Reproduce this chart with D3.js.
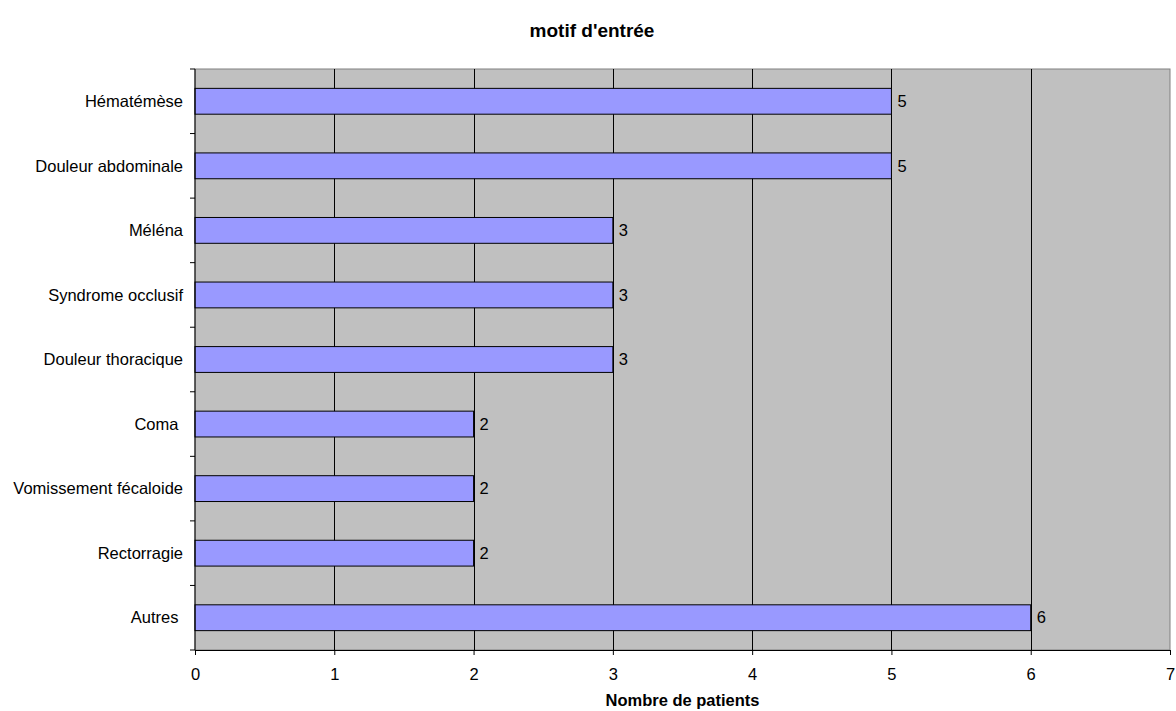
<!DOCTYPE html>
<html>
<head>
<meta charset="utf-8">
<script src="https://cdn.jsdelivr.net/npm/d3@7"></script>
<style>
  body { margin: 0; background: #fff; }
  text { font-family: "Liberation Sans", Arial, sans-serif; }
</style>
</head>
<body>
<div id="chart"></div>
<script>
// data
const categories = ['Hématémèse', 'Douleur abdominale', 'Méléna', 'Syndrome occlusif',
    'Douleur thoracique', 'Coma ', 'Vomissement fécaloide', 'Rectorragie', 'Autres '];
const patients = [5, 5, 3, 3, 3, 2, 2, 2, 6];
const xTicks = [0, 1, 2, 3, 4, 5, 6, 7];

const W = 1176, H = 711;
const margin = {top: 69, right: 6, bottom: 61, left: 195};
const width = W - margin.left - margin.right,
    height = H - margin.top - margin.bottom;
const fontSize = '16.5px';

const svg = d3.select('#chart').append('svg')
    .attr('width', W)
    .attr('height', H);

const x = d3.scaleLinear().domain([0, 7]).range([0, width]);
const y = d3.scaleBand().domain(categories).range([0, height]).padding(0);

const g = svg.append('g')
    .attr('transform', 'translate(' + margin.left + ',' + margin.top + ')');

// plot background
g.append('rect')
    .attr('width', width)
    .attr('height', height)
    .style('fill', '#c0c0c0')
    .style('stroke', '#808080')
    .style('stroke-width', 1);

// vertical gridlines
g.selectAll('.grid')
    .data(xTicks.slice(1, -1))
    .enter().append('line')
    .attr('class', 'grid')
    .attr('x1', d => Math.round(x(d)) + 0.5)
    .attr('x2', d => Math.round(x(d)) + 0.5)
    .attr('y1', 0)
    .attr('y2', height)
    .style('stroke', '#000')
    .style('stroke-width', 1);

// bars
const data = categories.map((c, i) => ({cat: c, value: patients[i]}));

g.selectAll('.bar')
    .data(data)
    .enter().append('rect')
    .attr('class', 'bar')
    .attr('x', x(0))
    .attr('y', d => y(d.cat) + y.bandwidth() * 0.3)
    .attr('width', d => x(d.value) - x(0))
    .attr('height', y.bandwidth() * 0.4)
    .style('fill', '#9999ff')
    .style('stroke', '#000')
    .style('stroke-width', 1);

// value labels
g.selectAll('.val')
    .data(data)
    .enter().append('text')
    .attr('class', 'val')
    .attr('x', d => x(d.value) + 6)
    .attr('y', d => y(d.cat) + y.bandwidth() / 2)
    .attr('dy', '0.35em')
    .attr('font-size', fontSize)
    .style('fill', '#000')
    .text(d => d.value);

// X axis
const xAxis = g.append('g')
    .attr('transform', 'translate(0,' + height + ')')
    .call(d3.axisBottom(x).tickValues(xTicks).tickSize(5).tickPadding(13).tickFormat(d3.format('d')));
xAxis.select('.domain').style('stroke', '#000');
xAxis.selectAll('text')
    .attr('font-size', fontSize)
    .style('font-family', '"Liberation Sans", Arial, sans-serif');

// Y axis: ticks on band boundaries
const yAxis = g.append('g');
yAxis.append('line')
    .attr('x1', 0).attr('x2', 0)
    .attr('y1', 0).attr('y2', height)
    .style('stroke', '#000');
yAxis.selectAll('.ytick')
    .data(d3.range(categories.length + 1))
    .enter().append('line')
    .attr('x1', -5).attr('x2', 0)
    .attr('y1', i => i * y.step())
    .attr('y2', i => i * y.step())
    .style('stroke', '#000');
yAxis.selectAll('.ylab')
    .data(categories)
    .enter().append('text')
    .attr('x', -12)
    .attr('y', d => y(d) + y.bandwidth() / 2)
    .attr('dy', '0.35em')
    .attr('text-anchor', 'end')
    .attr('font-size', fontSize)
    .style('white-space', 'pre')
    .text(d => d);

// title
svg.append('text')
    .attr('x', 592)
    .attr('y', 37)
    .attr('text-anchor', 'middle')
    .attr('font-size', '19px')
    .attr('font-weight', 'bold')
    .text("motif d'entrée");

// x label
svg.append('text')
    .attr('x', margin.left + width / 2)
    .attr('y', 706)
    .attr('text-anchor', 'middle')
    .attr('font-size', '16.5px')
    .attr('font-weight', 'bold')
    .text('Nombre de patients');
</script>
</body>
</html>
